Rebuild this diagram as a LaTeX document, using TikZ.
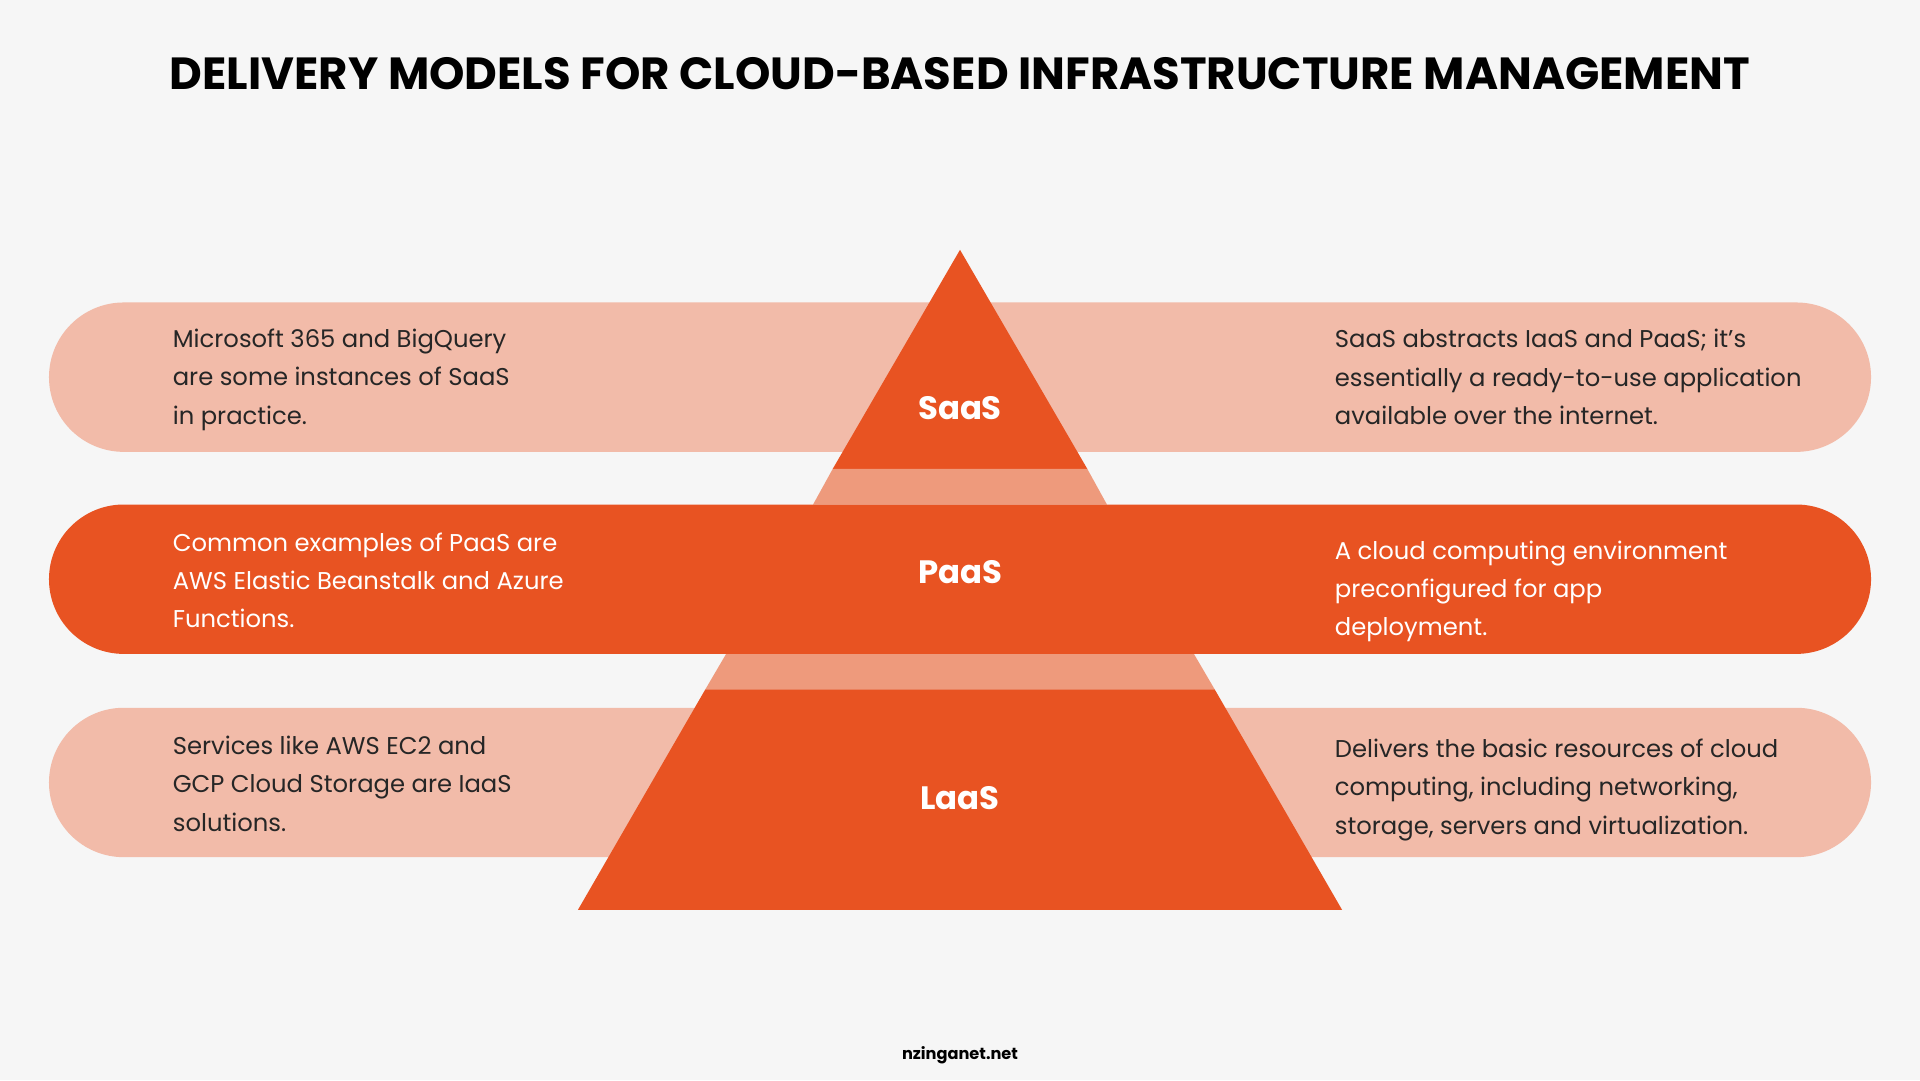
\documentclass[tikz,border=0pt]{standalone}
\usepackage{fontspec}
\setmainfont{Poppins}
\usetikzlibrary{positioning}
\definecolor{bg}{HTML}{F6F6F6}
\definecolor{deep}{HTML}{E85322}
\definecolor{pale}{HTML}{F2BBA9}
\definecolor{mid}{HTML}{EE9A7C}
\begin{document}
\begin{tikzpicture}[x=0.012245cm, y=-0.012245cm,
	info/.style={anchor=west, align=left, font=\fontsize{6.9}{10.9}\selectfont, text=black!85},
	tier/.style={font=\fontsize{9.2}{11}\selectfont\bfseries, text=white}]
	\fill[bg] (0,0) rectangle (1568,882);
	\useasboundingbox (0,0) rectangle (1568,882);

	\node[font=\fontsize{12.8}{15}\selectfont\bfseries] (title) at (784,60) {DELIVERY MODELS FOR CLOUD-BASED INFRASTRUCTURE MANAGEMENT};

	% light bands
	\fill[pale, rounded corners=0.747cm] (40,247) rectangle (1528,369);
	\fill[pale, rounded corners=0.747cm] (40,578) rectangle (1528,700);

	% pyramid pieces
	\fill[deep] (784,204) -- (888,383) -- (680,383) -- cycle;
	\fill[mid] (680,383) -- (888,383) -- (904,412) -- (664,412) -- cycle;
	\fill[mid] (593,534) -- (975,534) -- (992,563) -- (576,563) -- cycle;
	\fill[deep] (576,563) -- (992,563) -- (1096,743) -- (472,743) -- cycle;

	% middle band
	\fill[deep, rounded corners=0.747cm] (40,412) rectangle (1528,534);

	\node[tier] (saas) at (784,333) {SaaS};
	\node[tier] (paas) at (784,467) {PaaS};
	\node[tier] (laas) at (784,652) {LaaS};

	\node[info] (saasL) at (131,310) {Microsoft 365 and BigQuery\\are some instances of SaaS\\in practice.};
	\node[info] (saasR) at (1080,308) {SaaS abstracts IaaS and PaaS; it’s\\essentially a ready-to-use application\\available over the internet.};
	\node[info, text=white] (paasL) at (131,474) {Common examples of PaaS are\\AWS Elastic Beanstalk and Azure\\Functions.};
	\node[info, text=white] (paasR) at (1080,483) {A cloud computing environment\\preconfigured for app\\deployment.};
	\node[info] (laasL) at (131,640) {Services like AWS EC2 and\\GCP Cloud Storage are IaaS\\solutions.};
	\node[info] (laasR) at (1080,645) {Delivers the basic resources of cloud\\computing, including networking,\\storage, servers and virtualization.};

	\node[font=\fontsize{4.6}{6}\selectfont\bfseries] (site) at (784,862) {nzinganet.net};
\end{tikzpicture}
\end{document}
